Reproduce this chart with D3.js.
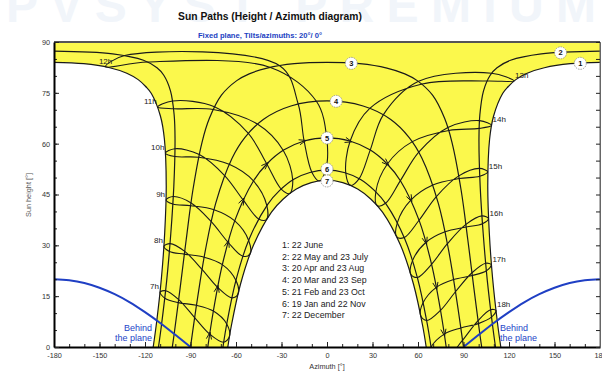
<!DOCTYPE html>
<html>
<head>
<meta charset="utf-8">
<script src="https://cdn.jsdelivr.net/npm/d3@7/dist/d3.min.js"></script>
<style>
  body { margin: 0; background: #fff; }
  text { font-family: "Liberation Sans", Arial, sans-serif; }
</style>
</head>
<body>
<svg id="chart" width="602" height="372"></svg>
<script>
// day paths [azimuth, height], sunrise -> sunset
var path1 = [[-114.6,0],[-112.5,6.8],[-109.2,20.2],[-107.0,33.8],[-106.0,47.6],[-107.2,61.3],[-109.8,68.1],[-115.8,74.8],[-119.4,76.8],[-124.5,78.9],[-132.0,80.8],[-143.3,82.4],[-160.4,83.6],[-180,84.0],
             [180,84.0],[160.4,83.6],[143.3,82.4],[132.0,80.8],[124.5,78.9],[119.4,76.8],[115.8,74.8],[109.8,68.1],[107.2,61.3],[106.0,47.6],[107.0,33.8],[109.2,20.2],[112.5,6.8],[114.6,0]];
var path2 = [[-111.1,0],[-109.3,5.9],[-105.7,19.6],[-103.0,33.4],[-101.0,47.4],[-100.2,61.5],[-100.8,68.6],[-103.2,75.6],[-107.6,80.2],[-112.1,82.4],[-121.0,84.6],[-141.3,86.5],[-180,87.3],
             [180,87.3],[141.3,86.5],[121.0,84.6],[112.1,82.4],[107.6,80.2],[103.2,75.6],[100.8,68.6],[100.2,61.5],[101.0,47.4],[103.0,33.4],[105.7,19.6],[109.3,5.9],[111.1,0]];
var path3 = [[-102.0,0],[-100.9,3.4],[-96.8,17.5],[-92.8,31.8],[-88.5,46.1],[-82.4,60.4],[-77.6,67.4],[-69.6,74.3],[-59.5,78.6],[-51.3,80.6],[-39.5,82.3],[-21.6,83.6],[0,84.0],
             [21.6,83.6],[39.5,82.3],[51.3,80.6],[59.5,78.6],[69.6,74.3],[77.6,67.4],[82.4,60.4],[88.5,46.1],[92.8,31.8],[96.8,17.5],[100.9,3.4],[102.0,0]];
var path4 = [[-90,0],[-85.4,14.3],[-80.2,28.5],[-73.4,42.4],[-62.6,55.7],[-54.2,61.8],[-41.8,67.2],[-23.8,71.1],[0,72.6],
             [23.8,71.1],[41.8,67.2],[54.2,61.8],[62.6,55.7],[73.4,42.4],[80.2,28.5],[85.4,14.3],[90,0]];
var path5 = [[-78.6,0],[-74.9,10.7],[-69.0,24.3],[-60.8,37.3],[-48.5,49.0],[-39.7,54.0],[-28.6,58.1],[-15.1,60.8],[0,61.7],
             [15.1,60.8],[28.6,58.1],[39.7,54.0],[48.5,49.0],[60.8,37.3],[69.0,24.3],[74.9,10.7],[78.6,0]];
var path6 = [[-68.6,0],[-65.9,7.3],[-59.8,20.1],[-51.3,31.9],[-39.1,42.1],[-31.2,46.2],[-21.9,49.5],[-11.3,51.5],[0,52.2],
             [11.3,51.5],[21.9,49.5],[31.2,46.2],[39.1,42.1],[51.3,31.9],[59.8,20.1],[65.9,7.3],[68.6,0]];
var path7 = [[-65.4,0],[-63.1,6.2],[-57.0,18.6],[-48.5,30.0],[-36.6,39.8],[-29.0,43.6],[-20.2,46.6],[-10.4,48.5],[0,49.2],
             [10.4,48.5],[20.2,46.6],[29.0,43.6],[36.6,39.8],[48.5,30.0],[57.0,18.6],[63.1,6.2],[65.4,0]];

// hour lines: one point per date, order Jun Jul Aug Sep Oct Nov Dec Jan Feb Mar Apr May
var h07 = [[-110.1,16.2],[-106.9,14.4],[-98.0,13.1],[-86.1,12.3],[-74.9,10.6],[-66.1,6.8],[-64.3,3.1],[-68.1,1.4],[-77.3,3.8],[-87.3,8.7],[-97.8,14.0],[-106.4,16.6]];
var h08 = [[-107.5,29.7],[-103.9,28.2],[-94.1,27.4],[-81.0,26.5],[-69.0,24.3],[-60.0,19.6],[-58.6,15.7],[-62.7,14.5],[-72.1,17.6],[-82.4,22.9],[-93.8,28.2],[-103.5,30.5]];
var h09 = [[-106.1,43.4],[-101.7,42.2],[-89.9,41.7],[-74.5,40.5],[-60.8,37.2],[-51.7,31.5],[-50.8,27.4],[-55.5,26.8],[-65.2,30.9],[-76.3,37.0],[-89.6,42.5],[-101.4,44.4]];
var h10 = [[-106.5,57.2],[-100.3,56.2],[-84.6,56.0],[-64.5,53.9],[-48.5,49.0],[-39.7,41.8],[-39.9,37.6],[-45.1,37.8],[-55.3,43.4],[-67.5,50.6],[-84.2,56.8],[-100.3,58.5]];
var h11 = [[-111.6,70.8],[-101.1,70.3],[-75.1,70.1],[-45.9,65.8],[-28.8,58.0],[-22.6,49.3],[-24.6,45.3],[-30.2,46.6],[-39.7,54.0],[-52.0,63.1],[-74.2,70.9],[-101.8,72.6]];
var h12 = [[-146.0,82.7],[-118.2,84.1],[-37.3,82.5],[-7.0,72.5],[-0.2,61.7],[-0.9,52.2],[-5.1,49.0],[-10.0,51.6],[-15.1,60.8],[-19.0,71.7],[-31.2,83.0],[-133.4,86.0]];
var h13 = [[123.3,78.5],[108.5,80.8],[60.4,78.4],[37.1,68.5],[28.5,58.1],[21.1,49.6],[15.5,47.7],[12.4,51.3],[15.2,60.7],[28.2,70.4],[62.7,77.6],[105.5,78.5]];
var h14 = [[108.5,65.4],[100.6,66.8],[79.7,64.8],[60.5,57.5],[48.4,49.1],[38.6,42.4],[33.1,41.7],[32.2,45.8],[39.8,54.0],[56.3,60.6],[80.3,63.9],[100.4,64.5]];
var h15 = [[106.0,51.7],[100.5,52.7],[86.9,50.5],[72.1,44.4],[60.7,37.4],[50.9,32.3],[46.0,32.5],[46.4,36.7],[55.4,43.4],[69.8,47.8],[87.2,49.7],[100.7,50.4]];
var h16 = [[106.5,37.9],[102.2,38.7],[91.6,36.2],[79.4,30.5],[68.9,24.4],[59.5,20.5],[55.2,21.5],[56.4,25.5],[65.3,30.9],[77.8,34.0],[91.8,35.4],[102.5,36.4]];
var h17 = [[108.4,24.3],[104.6,24.7],[95.6,21.9],[84.7,16.3],[74.8,10.8],[65.7,7.8],[61.7,9.3],[63.4,13.1],[72.1,17.6],[83.5,19.9],[95.8,21.1],[105.1,22.5]];
var h18 = [[111.4,10.8],[107.8,11.0],[99.6,7.8],[89.4,2.0],[79.6,-3.2],[70.3,-5.5],[66.6,-3.6],[68.6,0.0],[77.3,3.8],[88.2,5.6],[99.8,6.9],[108.4,8.8]];
var hourNames = ["7h","8h","9h","10h","11h","12h","13h","14h","15h","16h","17h","18h"];

// "behind the plane" limit for the 20° tilted plane
var behindLeft  = [[-180,20.0],[-170,19.7],[-160,18.9],[-150,17.5],[-140,15.6],[-130,13.2],[-120,10.3],[-110,7.1],[-100,3.6],[-90,0]];
var behindRight = [[90,0],[100,3.6],[110,7.1],[120,10.3],[130,13.2],[140,15.6],[150,17.5],[160,18.9],[170,19.7],[180,20.0]];

var pathLabels = ["1","2","3","4","5","6","7"];
var labelAz = [167, 154, 16, 6, 0, 0, 0];
var labelH  = [83.7, 86.8, 83.7, 72.5, 61.7, 52.5, 49.0];
var legendLines = ["1: 22 June", "2: 22 May and 23 July", "3: 20 Apr and 23 Aug", "4: 20 Mar and 23 Sep",
                   "5: 21 Feb and 23 Oct", "6: 19 Jan and 22 Nov", "7: 22 December"];

var svg = d3.select("#chart");
var plot = { left: 54, right: 600, top: 42, bottom: 347 };

var x = d3.scaleLinear().domain([-180, 180]).range([plot.left, plot.right]);
var y = d3.scaleLinear().domain([0, 90]).range([plot.bottom, plot.top]);

// faint watermark, cut by the top edge
svg.append("text")
    .attr("x", 6).attr("y", 22)
    .attr("font-size", 48).attr("font-weight", "bold")
    .attr("fill", "#f1f5fa")
    .attr("textLength", 590)
    .text("PVSYST  PREMIUM");

svg.append("text")
    .attr("x", 270).attr("y", 20)
    .attr("text-anchor", "middle")
    .attr("font-size", 10.3).attr("font-weight", "bold")
    .attr("fill", "#111")
    .text("Sun Paths (Height / Azimuth diagram)");

svg.append("text")
    .attr("x", 260).attr("y", 37.5)
    .attr("text-anchor", "middle")
    .attr("font-size", 7.6).attr("font-weight", "bold")
    .attr("fill", "#1c3fc2")
    .text("Fixed plane, Tilts/azimuths: 20°/ 0°");

svg.append("defs").append("clipPath").attr("id", "clip")
  .append("rect")
    .attr("x", plot.left).attr("y", plot.top)
    .attr("width", plot.right - plot.left).attr("height", plot.bottom - plot.top);

var g = svg.append("g").attr("clip-path", "url(#clip)");

var line = d3.line()
    .x(d => x(d[0]))
    .y(d => y(d[1]))
    .curve(d3.curveCatmullRom.alpha(0.5));

var loopLine = d3.line()
    .x(d => x(d[0]))
    .y(d => y(d[1]))
    .curve(d3.curveCatmullRomClosed.alpha(0.5));

// split a path where it wraps through azimuth +-180
function splitWrap(pts) {
  var segs = [[pts[0]]];
  for (var i = 1; i < pts.length; i++) {
    if (Math.abs(pts[i][0] - pts[i - 1][0]) > 180) segs.push([]);
    segs[segs.length - 1].push(pts[i]);
  }
  return segs;
}

// yellow band between 22 June and 22 December
var outer = splitWrap(path1);
var fillD = line(outer[0])
  + "L" + x(-180) + "," + y(90) + "L" + x(180) + "," + y(90)
  + line(outer[1]).replace(/^M/, "L")
  + line(path7.slice().reverse()).replace(/^M/, "L") + "Z";

g.append("path")
    .attr("d", fillD)
    .attr("fill", "#fbf84c");

var hourLoops = [h07, h08, h09, h10, h11, h12, h13, h14, h15, h16, h17, h18];

g.selectAll(".hour")
  .data(hourLoops)
  .enter().append("path")
    .attr("class", "hour")
    .attr("d", loopLine)
    .attr("fill", "none")
    .attr("stroke", "#1a1a1a")
    .attr("stroke-width", 1.1);

var dayPaths = [path1, path2, path3, path4, path5, path6, path7];
dayPaths.forEach(function(p) {
  splitWrap(p).forEach(function(seg) {
    g.append("path")
        .attr("d", line(seg))
        .attr("fill", "none")
        .attr("stroke", "#1a1a1a")
        .attr("stroke-width", 1.2);
  });
});

// arrows along path 5 at the hourly points of 21 Feb
var feb = hourLoops.map(a => a[8]);
feb.forEach(function(p, i) {
  var a = feb[Math.max(i - 1, 0)], b = feb[Math.min(i + 1, feb.length - 1)];
  var dx = x(b[0]) - x(a[0]), dy = y(b[1]) - y(a[1]);
  var len = Math.hypot(dx, dy);
  dx /= len; dy /= len;
  var tx = x(p[0]) + dx * 2, ty = y(p[1]) + dy * 2;
  var bx = tx - dx * 7, by = ty - dy * 7;
  var px = -dy * 2.6, py = dx * 2.6;
  g.append("path")
      .attr("d", "M" + (bx + px) + "," + (by + py) + "L" + tx + "," + ty + "L" + (bx - px) + "," + (by - py))
      .attr("fill", "none")
      .attr("stroke", "#1a1a1a")
      .attr("stroke-width", 1);
});

[behindLeft, behindRight].forEach(function(b) {
  g.append("path")
      .attr("d", line(b))
      .attr("fill", "none")
      .attr("stroke", "#1f3fc4")
      .attr("stroke-width", 2);
});

// hour labels at the 22 June end of each hour line
hourLoops.forEach(function(loop, i) {
  var p = loop[0];
  var anchor = i < 5 ? "end" : (i === 5 ? "middle" : "start");
  var dx = i < 5 ? -1 : (i === 5 ? 0 : 1);
  svg.append("text")
      .attr("x", x(p[0]) + dx)
      .attr("y", y(p[1]) - 3)
      .attr("text-anchor", anchor)
      .attr("font-size", 8)
      .attr("fill", "#222")
      .text(hourNames[i]);
});

// numbered path markers
var marks = svg.selectAll(".mark")
  .data(pathLabels)
  .enter().append("g")
    .attr("class", "mark")
    .attr("transform", (d, i) => "translate(" + x(labelAz[i]) + "," + y(labelH[i]) + ")");
marks.append("circle")
    .attr("r", 6)
    .attr("fill", "#fff")
    .attr("stroke", "#888")
    .attr("stroke-width", 0.8)
    .attr("stroke-dasharray", "1.5,1");
marks.append("text")
    .attr("text-anchor", "middle")
    .attr("dy", "0.35em")
    .attr("font-size", 7.5)
    .attr("font-weight", "bold")
    .attr("fill", "#111")
    .text(d => d);

svg.selectAll(".legend")
  .data(legendLines)
  .enter().append("text")
    .attr("class", "legend")
    .attr("x", 282)
    .attr("y", (d, i) => 248 + i * 11.7)
    .attr("font-size", 8.8)
    .attr("fill", "#222")
    .text(d => d);

svg.append("text").attr("x", 152).attr("y", 331).attr("text-anchor", "end")
    .attr("font-size", 9).attr("fill", "#2545c8").text("Behind");
svg.append("text").attr("x", 152).attr("y", 341).attr("text-anchor", "end")
    .attr("font-size", 9).attr("fill", "#2545c8").text("the plane");
svg.append("text").attr("x", 500).attr("y", 331)
    .attr("font-size", 9).attr("fill", "#2545c8").text("Behind");
svg.append("text").attr("x", 500).attr("y", 341)
    .attr("font-size", 9).attr("fill", "#2545c8").text("the plane");

// frame and axes
svg.append("line")
    .attr("x1", plot.left).attr("x2", plot.right)
    .attr("y1", plot.top).attr("y2", plot.top)
    .attr("stroke", "#555").attr("stroke-width", 2);
svg.append("line")
    .attr("x1", plot.right).attr("x2", plot.right)
    .attr("y1", plot.top).attr("y2", plot.bottom)
    .attr("stroke", "#666").attr("stroke-width", 1);

var xMinor = svg.append("g")
    .attr("transform", "translate(0," + plot.bottom + ")")
    .call(d3.axisBottom(x).tickValues(d3.range(-180, 181, 10)).tickSize(-3).tickFormat(""));
var xMajor = svg.append("g")
    .attr("transform", "translate(0," + plot.bottom + ")")
    .call(d3.axisBottom(x).tickValues(d3.range(-180, 181, 30)).tickSize(-5).tickSizeOuter(0)
          .tickPadding(6).tickFormat(d => String(d)));

var yMinor = svg.append("g")
    .attr("transform", "translate(" + plot.left + ",0)")
    .call(d3.axisLeft(y).tickValues(d3.range(0, 91, 5)).tickSize(-3).tickFormat(""));
var yMajor = svg.append("g")
    .attr("transform", "translate(" + plot.left + ",0)")
    .call(d3.axisLeft(y).tickValues(d3.range(0, 91, 15)).tickSize(-5).tickSizeOuter(0)
          .tickPadding(4).tickFormat(d => String(d)));
var yRight = svg.append("g")
    .attr("transform", "translate(" + plot.right + ",0)")
    .call(d3.axisRight(y).tickValues(d3.range(0, 91, 5)).tickSize(-4).tickFormat(""));

[xMinor, xMajor, yMinor, yMajor, yRight].forEach(function(ax) {
  ax.selectAll("text").attr("font-size", 7.3).attr("fill", "#333")
    .attr("font-family", "'Liberation Sans', Arial, sans-serif");
  ax.selectAll(".tick line").attr("stroke", "#222");
});
yRight.select(".domain").attr("stroke", "#666");
xMajor.select(".domain").attr("stroke", "#000").attr("stroke-width", 2);
yMajor.select(".domain").attr("stroke", "#000").attr("stroke-width", 2);
xMinor.select(".domain").remove();
yMinor.select(".domain").remove();

svg.append("text")
    .attr("x", 327).attr("y", 369)
    .attr("text-anchor", "middle")
    .attr("font-size", 7.3).attr("fill", "#333")
    .text("Azimuth [°]");

svg.append("text")
    .attr("transform", "translate(31,195) rotate(-90)")
    .attr("text-anchor", "middle")
    .attr("font-size", 7.3).attr("fill", "#555")
    .text("Sun height [°]");
</script>
</body>
</html>
